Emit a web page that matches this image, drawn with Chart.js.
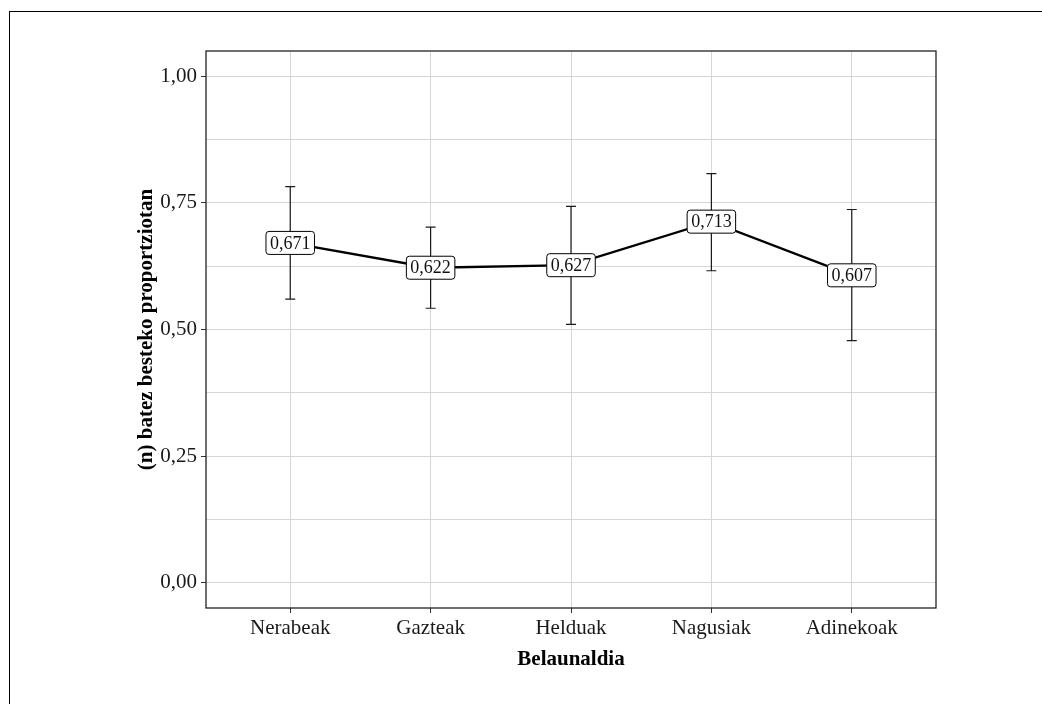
<!DOCTYPE html>
<html>
<head>
<meta charset="utf-8">
<script src="https://cdn.jsdelivr.net/npm/chart.js@4"></script>
<style>
  html, body { margin: 0; padding: 0; background: #fff; }
  #wrap { position: relative; width: 1042px; height: 704px; }
  #frame { position: absolute; left: 9px; top: 11px; right: 0; bottom: 0;
           border-top: 1px solid #000; border-left: 1px solid #000; pointer-events: none; }
</style>
</head>
<body>
<div id="wrap">
  <div id="frame"></div>
  <canvas id="myChart"></canvas>
</div>
<script>
const categories = ['Nerabeak', 'Gazteak', 'Helduak', 'Nagusiak', 'Adinekoak']
const means = [0.671, 0.622, 0.627, 0.713, 0.607]
const lower = [0.560, 0.542, 0.510, 0.616, 0.478]
const upper = [0.782, 0.702, 0.743, 0.808, 0.737]
const yMajor = [0, 0.25, 0.5, 0.75, 1]
const yMinor = [0.125, 0.375, 0.625, 0.875]

const serif = "'Liberation Serif', 'DejaVu Serif', serif"

const fmt = v => v.toFixed(2).replace('.', ',')
const fmt3 = v => v.toFixed(3).replace('.', ',')

// error bars + panel border + value labels
const extras = {
    id: 'extras',
    beforeDatasetsDraw(chart) {
        const ctx = chart.ctx
        const xs = chart.scales.x, ys = chart.scales.y
        ctx.save()
        ctx.strokeStyle = '#1a1a1a'
        ctx.lineWidth = 1.2
        categories.forEach((c, i) => {
            const x = xs.getPixelForValue(i)
            const y1 = ys.getPixelForValue(lower[i])
            const y2 = ys.getPixelForValue(upper[i])
            ctx.beginPath()
            ctx.moveTo(x, y1); ctx.lineTo(x, y2)
            ctx.moveTo(x - 5, y1); ctx.lineTo(x + 5, y1)
            ctx.moveTo(x - 5, y2); ctx.lineTo(x + 5, y2)
            ctx.stroke()
        })
        ctx.restore()
    },
    afterDatasetsDraw(chart) {
        const ctx = chart.ctx
        const xs = chart.scales.x, ys = chart.scales.y
        const a = chart.chartArea
        ctx.save()
        ctx.strokeStyle = '#222'
        ctx.lineWidth = 1.3
        ctx.strokeRect(a.left, a.top, a.right - a.left, a.bottom - a.top)

        ctx.font = '18px ' + serif
        ctx.textAlign = 'center'
        ctx.textBaseline = 'middle'
        means.forEach((v, i) => {
            const x = xs.getPixelForValue(i)
            const y = ys.getPixelForValue(v)
            const txt = fmt3(v)
            const w = ctx.measureText(txt).width + 8
            const h = 23
            ctx.beginPath()
            ctx.roundRect(x - w / 2, y - h / 2, w, h, 3)
            ctx.fillStyle = '#fff'
            ctx.fill()
            ctx.strokeStyle = '#000'
            ctx.lineWidth = 1
            ctx.stroke()
            ctx.fillStyle = '#111'
            ctx.fillText(txt, x, y + 1)
        })
        ctx.restore()
    }
}

const data = {
    datasets: [{
        data: means.map((v, i) => ({ x: i, y: v })),
        borderColor: '#000',
        borderWidth: 2.3,
        pointRadius: 0,
        fill: false,
        tension: 0
    }]
}

const config = {
    type: 'line',
    data,
    plugins: [extras],
    options: {
        responsive: true,
        maintainAspectRatio: false,
        animation: false,
        layout: { padding: { top: 51, right: 106, left: 0, bottom: 0 } },
        plugins: { legend: { display: false }, tooltip: { enabled: false } },
        scales: {
            x: {
                type: 'linear',
                min: -0.6,
                max: 4.6,
                afterBuildTicks: axis => { axis.ticks = categories.map((c, i) => ({ value: i })) },
                afterFit: scale => { scale.height = 96 },
                grid: { color: '#d6d6d6', lineWidth: 1, tickColor: '#333', tickLength: 5 },
                border: { display: false },
                ticks: {
                    autoSkip: false,
                    maxRotation: 0,
                    padding: 3,
                    color: '#1a1a1a',
                    font: { family: serif, size: 21 },
                    callback: v => categories[v]
                },
                title: {
                    display: true,
                    text: 'Belaunaldia',
                    color: '#000',
                    font: { family: serif, size: 21, weight: 'bold' },
                    padding: { top: 0, bottom: 32 }
                }
            },
            y: {
                min: -0.05,
                max: 1.05,
                afterBuildTicks: axis => {
                    axis.ticks = yMajor.concat(yMinor).sort((p, q) => p - q).map(v => ({ value: v }))
                },
                afterFit: scale => { scale.width = 206 },
                grid: {
                    color: '#d6d6d6',
                    lineWidth: 1,
                    tickLength: 5,
                    tickColor: c => yMajor.includes(c.tick.value) ? '#333' : 'rgba(0,0,0,0)'
                },
                border: { display: false },
                ticks: {
                    autoSkip: false,
                    padding: 4,
                    color: '#1a1a1a',
                    font: { family: serif, size: 21 },
                    callback: v => yMajor.includes(v) ? fmt(v) : ''
                },
                title: {
                    display: true,
                    text: '(n) batez besteko proportziotan',
                    color: '#000',
                    font: { family: serif, size: 21, weight: 'bold' },
                    padding: { top: 134, bottom: 0 }
                }
            }
        }
    }
}

const myChart = new Chart(document.getElementById('myChart').getContext('2d'), config)
</script>
</body>
</html>
